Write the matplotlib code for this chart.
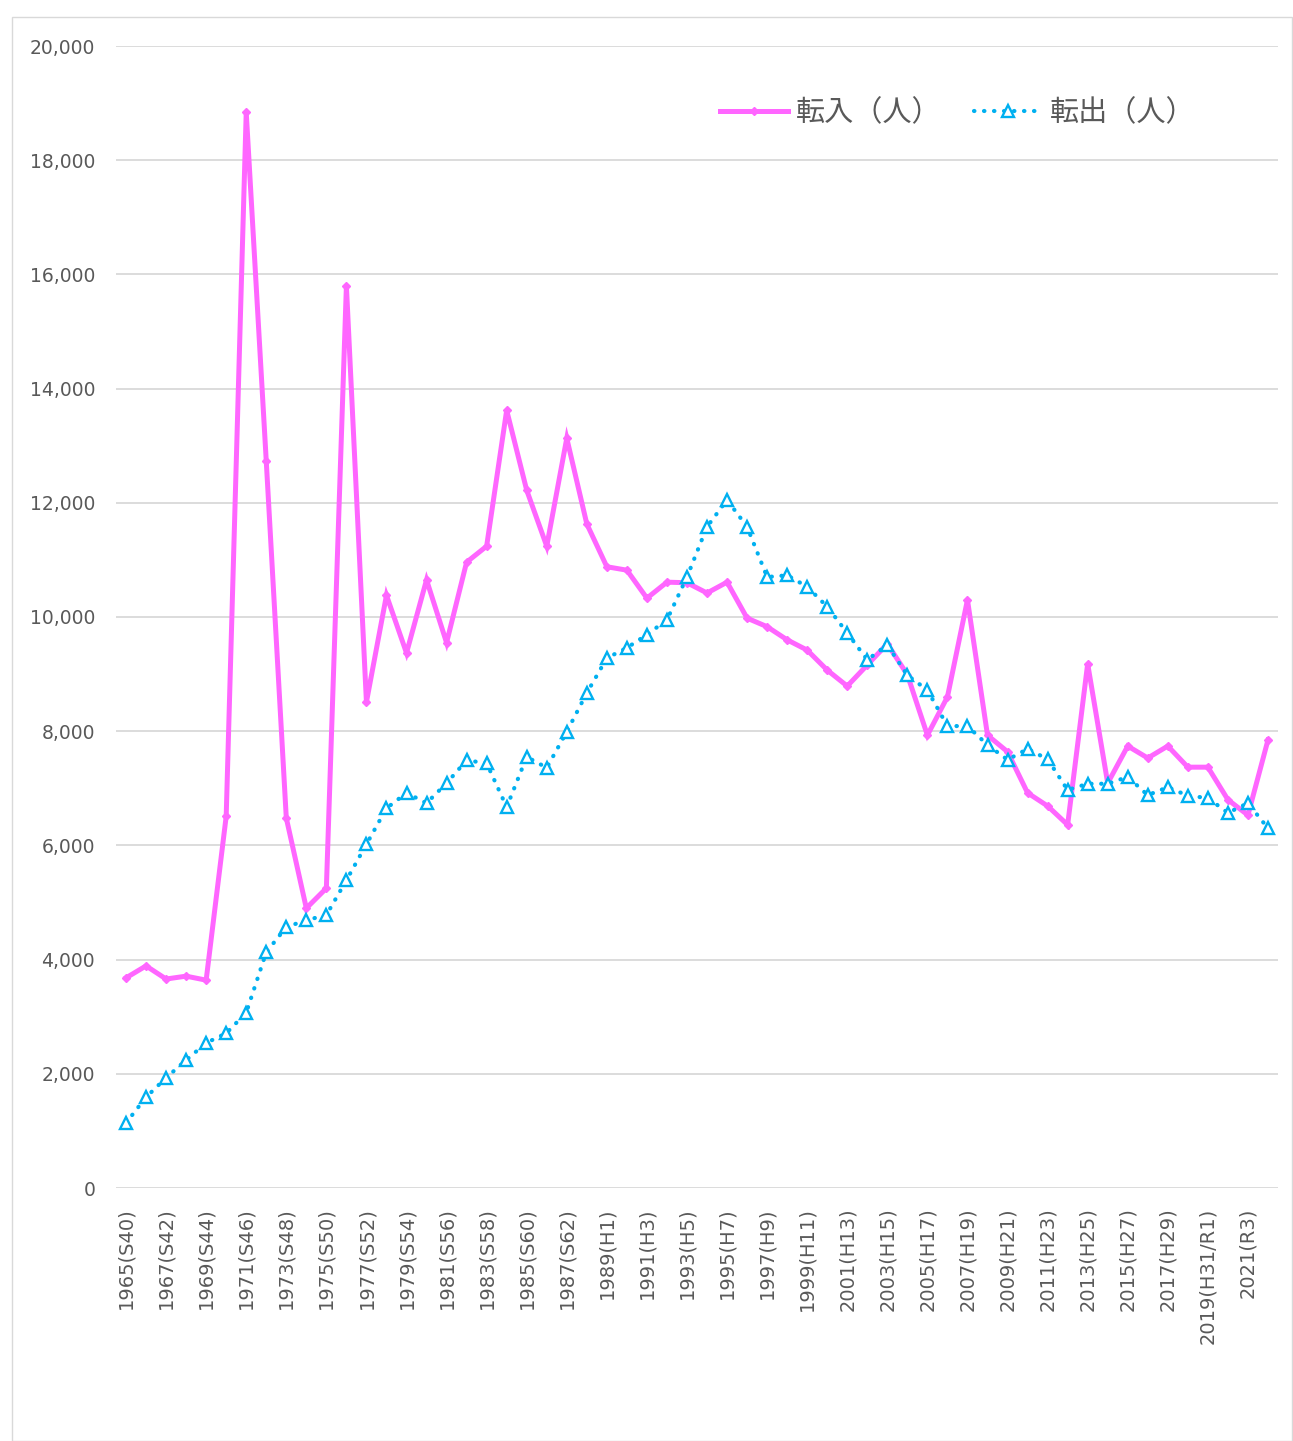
import matplotlib
matplotlib.use("Agg")
import matplotlib.pyplot as plt
from matplotlib.patches import Rectangle
from matplotlib.ticker import FuncFormatter

plt.rcParams['font.family'] = ['Noto Sans CJK JP', 'DejaVu Sans']

years = list(range(1965, 2023))
era = {1965: "S40", 1967: "S42", 1969: "S44", 1971: "S46", 1973: "S48", 1975: "S50",
       1977: "S52", 1979: "S54", 1981: "S56", 1983: "S58", 1985: "S60", 1987: "S62",
       1989: "H1", 1991: "H3", 1993: "H5", 1995: "H7", 1997: "H9", 1999: "H11",
       2001: "H13", 2003: "H15", 2005: "H17", 2007: "H19", 2009: "H21", 2011: "H23",
       2013: "H25", 2015: "H27", 2017: "H29", 2019: "H31/R1", 2021: "R3"}
tick_labels = [f"{y}({era[y]})" if y in era else "" for y in years]

inflow = [3680, 3890, 3660, 3710, 3640, 6510, 18840, 12730, 6480, 4900,
          5250, 15800, 8510, 10380, 9370, 10650, 9550, 10960, 11240, 13620,
          12220, 11240, 13130, 11630, 10880, 10820, 10330, 10610, 10600, 10420,
          10610, 9980, 9830, 9600, 9420, 9070, 8790, 9160, 9530, 8990,
          7930, 8600, 10300, 7930, 7640, 6920, 6690, 6360, 9180, 7090,
          7740, 7530, 7740, 7370, 7370, 6800, 6530, 7846]

outflow = [1140, 1590, 1930, 2240, 2540, 2710, 3070, 4130, 4570, 4690,
           4780, 5390, 6020, 6650, 6920, 6740, 7090, 7490, 7440, 6670,
           7550, 7360, 7990, 8670, 9280, 9460, 9690, 9950, 10700, 11580,
           12050, 11580, 10700, 10730, 10530, 10180, 9720, 9250, 9510, 8980,
           8720, 8090, 8090, 7760, 7500, 7690, 7510, 6970, 7080, 7080,
           7200, 6880, 7020, 6870, 6830, 6570, 6740, 6300]

W, H = 1293, 1441
fig = plt.figure(figsize=(W / 100, H / 100), dpi=100)
fig.patches.append(Rectangle((12 / W, 0), (W - 13) / W, 1 - 17 / H, transform=fig.transFigure,
                             fill=False, edgecolor='#D9D9D9', linewidth=1.0))

ax = fig.add_axes([116 / W, 1 - 1188 / H, (1278 - 116) / W, (1188 - 46) / H])
x = list(range(len(years)))

pink = '#FF66FF'
blue = '#00B0F0'
ax.plot(x, inflow, color=pink, linewidth=3.6, marker='D', markersize=4,
        markerfacecolor=pink, markeredgecolor=pink, label='転入（人）', zorder=3,
        solid_joinstyle='miter')
ax.plot(x, outflow, color=blue, linewidth=3.0, linestyle=(0, (0.1, 2.3)),
        dash_capstyle='round', marker='^', markersize=8, markerfacecolor='white',
        markeredgecolor=blue, markeredgewidth=1.7, label='転出（人）', zorder=4)

ax.set_xlim(-0.5, len(years) - 0.5)
ax.set_ylim(0, 20000)
ax.set_yticks(range(0, 20001, 2000))
ax.yaxis.set_major_formatter(FuncFormatter(lambda v, p: f"{int(v):,}"))
ax.set_xticks(x)
ax.set_xticklabels(tick_labels, rotation=90, fontsize=14, color='#595959',
                   family=['DejaVu Sans'])
ax.tick_params(axis='y', labelsize=13.5, labelcolor='#595959', length=0, pad=15)
ax.tick_params(axis='x', length=0, pad=14)
for t in ax.get_yticklabels():
    t.set_family(['DejaVu Sans'])
ax.grid(axis='y', color='#D9D9D9', linewidth=1.3)
ax.set_axisbelow(True)
for s in ax.spines.values():
    s.set_visible(False)

leg = fig.legend(loc='center', bbox_to_anchor=(958 / W, 1 - 113 / H), ncol=2, frameon=False,
                 fontsize=21, handlelength=2.3, handletextpad=0.3, columnspacing=1.1,
                 numpoints=1)
for t in leg.get_texts():
    t.set_color('#595959')

fig.savefig('out.png', dpi=100)
